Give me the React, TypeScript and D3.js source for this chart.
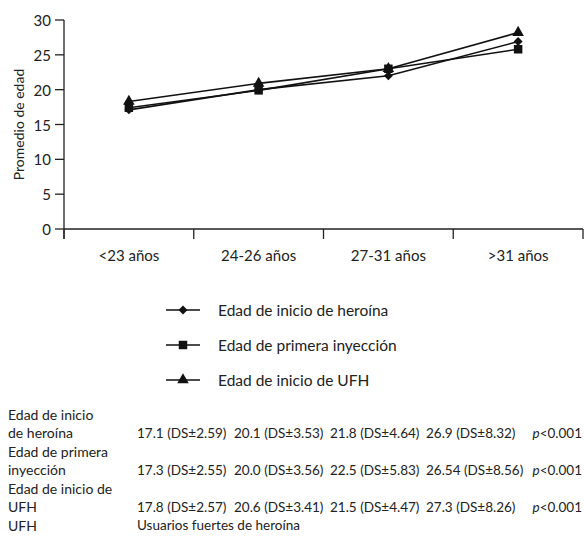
import * as d3 from "d3";

const categories = ["<23 años", "24-26 años", "27-31 años", ">31 años"];
const heroina = [17.1, 20.0, 22.0, 26.9];
const inyeccion = [17.4, 19.9, 23.0, 25.8];
const ufh = [18.3, 20.9, 23.0, 28.2];
const yTicks = [0, 5, 10, 15, 20, 25, 30];

const seriesNames = [
  "Edad de inicio de heroína",
  "Edad de primera inyección",
  "Edad de inicio de UFH",
];
const seriesSymbols = [d3.symbolSquare, d3.symbolSquare, d3.symbolTriangle];
const symbolSizes = [40, 72, 58];
const symbolRotation = [45, 0, 0];

const tableLabels = [
  ["Edad de inicio", "de heroína"],
  ["Edad de primera", "inyección"],
  ["Edad de inicio de", "UFH"],
];
const tableValues = [
  ["17.1 (DS±2.59)", "20.1 (DS±3.53)", "21.8 (DS±4.64)", "26.9 (DS±8.32)"],
  ["17.3 (DS±2.55)", "20.0 (DS±3.56)", "22.5 (DS±5.83)", "26.54 (DS±8.56)"],
  ["17.8 (DS±2.57)", "20.6 (DS±3.41)", "21.5 (DS±4.47)", "27.3 (DS±8.26)"],
];
const pValue = "<0.001";
const footnote = ["UFH", "Usuarios fuertes de heroína"];

const font = "'Lato', 'Open Sans', sans-serif";

export default function App() {
  const width = 584;
  const height = 536;
  const margin = { left: 64, right: 1, top: 20, bottom: 307 };

  const x = d3
    .scaleBand()
    .domain(categories)
    .range([margin.left, width - margin.right]);
  const y = d3
    .scaleLinear()
    .domain([0, 30])
    .range([height - margin.bottom, margin.top]);

  const series = [heroina, inyeccion, ufh];
  const cx = (i: number) => (x(categories[i]) as number) + x.bandwidth() / 2;
  const line = d3
    .line<number>()
    .x((_, i) => cx(i))
    .y((d) => y(d));

  const marker = (k: number) =>
    d3.symbol(seriesSymbols[k], symbolSizes[k])() as string;

  const bandEdges = [...categories.map((c) => x(c) as number), x.range()[1]];
  const colX = [137, 234, 330, 426];
  const pX = 582;
  const rowY = 414;
  const rowStep = 18.5;

  return (
    <svg
      width={width}
      height={height}
      style={{ position: "absolute", left: 0, top: 0, background: "#fff" }}
      fontFamily={font}
    >
      {/* eje y */}
      <line
        x1={margin.left}
        x2={margin.left}
        y1={y(30)}
        y2={y(0) + 10}
        stroke="#222"
        strokeWidth={1.3}
      />
      {yTicks.map((t) => (
        <g key={t}>
          <line
            x1={margin.left - 9}
            x2={margin.left}
            y1={y(t)}
            y2={y(t)}
            stroke="#222"
            strokeWidth={1.3}
          />
          <text
            x={margin.left - 13}
            y={y(t)}
            textAnchor="end"
            dominantBaseline="central"
            fontSize={15}
            fill="#222"
          >
            {t}
          </text>
        </g>
      ))}
      <text
        transform={`translate(18, ${(y(0) + y(30)) / 2}) rotate(-90)`}
        textAnchor="middle"
        dominantBaseline="central"
        fontSize={14}
        fill="#222"
      >
        Promedio de edad
      </text>

      {/* eje x */}
      <line
        x1={margin.left}
        x2={x.range()[1]}
        y1={y(0)}
        y2={y(0)}
        stroke="#222"
        strokeWidth={1.3}
      />
      {bandEdges.map((e, i) => (
        <line
          key={i}
          x1={e}
          x2={e}
          y1={y(0)}
          y2={y(0) + 10}
          stroke="#222"
          strokeWidth={1.3}
        />
      ))}
      {categories.map((c, i) => (
        <text
          key={c}
          x={cx(i)}
          y={y(0) + 26}
          textAnchor="middle"
          dominantBaseline="central"
          fontSize={15}
          fill="#222"
        >
          {c}
        </text>
      ))}

      {/* series */}
      {series.map((s, k) => (
        <path
          key={k}
          d={line(s) as string}
          fill="none"
          stroke="#111"
          strokeWidth={1.6}
        />
      ))}
      {series.map((s, k) =>
        s.map((v, i) => (
          <path
            key={`${k}-${i}`}
            transform={`translate(${cx(i)},${y(v)}) rotate(${symbolRotation[k]})`}
            d={marker(k)}
            fill="#111"
          />
        ))
      )}

      {/* leyenda */}
      {seriesNames.map((n, k) => {
        const ly = 310 + k * 35;
        return (
          <g key={n}>
            <line
              x1={166}
              x2={200}
              y1={ly}
              y2={ly}
              stroke="#111"
              strokeWidth={1.6}
            />
            <path
              transform={`translate(183,${ly}) rotate(${symbolRotation[k]})`}
              d={marker(k)}
              fill="#111"
            />
            <text
              x={218}
              y={ly}
              dominantBaseline="central"
              fontSize={15.5}
              fill="#222"
            >
              {n}
            </text>
          </g>
        );
      })}

      {/* tabla */}
      {tableLabels.map((lab, r) => {
        const ry = rowY + r * 2 * rowStep;
        return (
          <g key={r} fill="#222">
            <text x={8} y={ry} dominantBaseline="central" fontSize={14}>
              {lab[0]}
            </text>
            <text
              x={8}
              y={ry + rowStep}
              dominantBaseline="central"
              fontSize={14}
            >
              {lab[1]}
            </text>
            {tableValues[r].map((v, c) => (
              <text
                key={c}
                x={colX[c]}
                y={ry + rowStep}
                dominantBaseline="central"
                fontSize={13.5}
              >
                {v}
              </text>
            ))}
            <text
              x={pX}
              y={ry + rowStep}
              dominantBaseline="central"
              textAnchor="end"
              fontSize={13.5}
            >
              <tspan fontStyle="italic">p</tspan>
              {pValue}
            </text>
          </g>
        );
      })}
      <text
        x={8}
        y={rowY + 6 * rowStep}
        dominantBaseline="central"
        fontSize={14}
        fill="#222"
      >
        {footnote[0]}
      </text>
      <text
        x={colX[0]}
        y={rowY + 6 * rowStep}
        dominantBaseline="central"
        fontSize={13.5}
        fill="#222"
      >
        {footnote[1]}
      </text>
    </svg>
  );
}
